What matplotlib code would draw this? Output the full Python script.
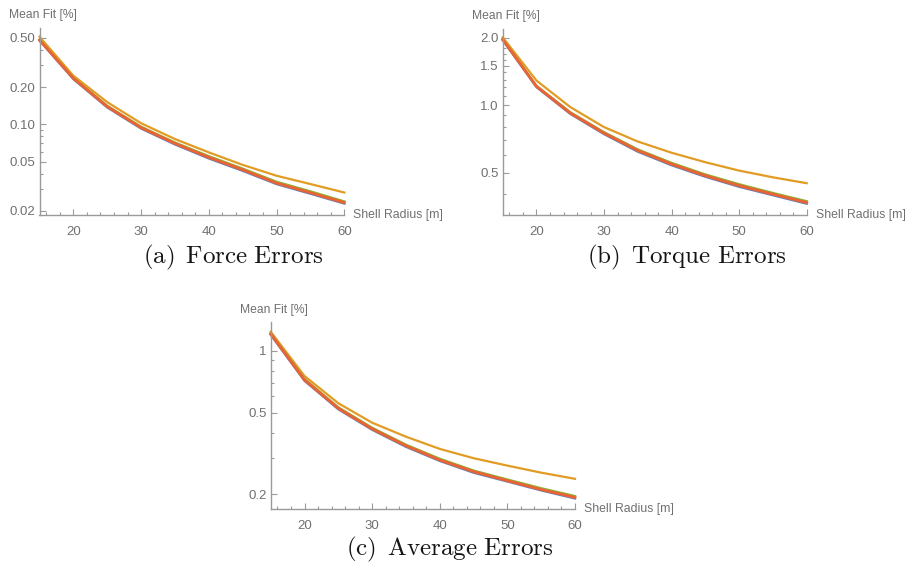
import matplotlib
matplotlib.use("Agg")
import matplotlib.pyplot as plt
from matplotlib.ticker import FixedLocator, NullFormatter, FixedFormatter

plt.rcParams['mathtext.fontset'] = 'cm'
plt.rcParams['font.family'] = ['Liberation Sans', 'DejaVu Sans']

# Shell radius samples [m]
radius = [15, 20, 25, 30, 35, 40, 45, 50, 55, 60]

# Mean fit [%] for the force errors
force_blue = [0.476, 0.232, 0.137, 0.0925, 0.0688, 0.0530, 0.0421, 0.0329, 0.0275, 0.0229]
force_orange = [0.51, 0.247, 0.151, 0.102, 0.076, 0.0593, 0.047, 0.0384, 0.0329, 0.0281]
force_green = [0.482, 0.237, 0.141, 0.0955, 0.0712, 0.0552, 0.0438, 0.0343, 0.0287, 0.0238]
force_red = [0.479, 0.235, 0.139, 0.094, 0.070, 0.054, 0.0429, 0.0335, 0.0280, 0.0233]

# Mean fit [%] for the torque errors
torque_blue = [1.955, 1.205, 0.915, 0.743, 0.620, 0.539, 0.479, 0.432, 0.396, 0.363]
torque_orange = [2.01, 1.288, 0.981, 0.798, 0.688, 0.613, 0.556, 0.510, 0.476, 0.448]
torque_green = [1.975, 1.22, 0.93, 0.757, 0.634, 0.552, 0.49, 0.443, 0.405, 0.372]
torque_red = [1.965, 1.213, 0.922, 0.750, 0.627, 0.545, 0.484, 0.437, 0.400, 0.367]

# Mean fit [%] for the average errors
avg_blue = [1.20, 0.716, 0.520, 0.413, 0.341, 0.291, 0.255, 0.231, 0.209, 0.191]
avg_orange = [1.242, 0.755, 0.556, 0.447, 0.382, 0.333, 0.300, 0.276, 0.255, 0.238]
avg_green = [1.22, 0.730, 0.531, 0.422, 0.349, 0.298, 0.261, 0.236, 0.214, 0.196]
avg_red = [1.21, 0.722, 0.525, 0.417, 0.345, 0.294, 0.258, 0.233, 0.211, 0.193]

# Tick values
force_major = [0.02, 0.05, 0.10, 0.20, 0.50]
force_major_labels = ["0.02", "0.05", "0.10", "0.20", "0.50"]
force_minor = [0.03, 0.04, 0.06, 0.07, 0.08, 0.09, 0.3, 0.4]
torque_major = [0.5, 1.0, 1.5, 2.0]
torque_major_labels = ["0.5", "1.0", "1.5", "2.0"]
torque_minor = [0.4, 0.6, 0.7, 0.8, 0.9, 1.1, 1.2, 1.3, 1.4, 1.6, 1.7, 1.8, 1.9]
avg_major = [0.2, 0.5, 1.0]
avg_major_labels = ["0.2", "0.5", "1"]
avg_minor = [0.3, 0.4, 0.6, 0.7, 0.8, 0.9]
x_major = [20, 30, 40, 50, 60]
x_minor = [16, 18, 22, 24, 26, 28, 32, 34, 36, 38, 42, 44, 46, 48, 52, 54, 56, 58]

C_BLUE = "#5E81B5"
C_ORANGE = "#E19C24"
C_GREEN = "#8FB032"
C_RED = "#EB6235"
AXIS_GRAY = "#9a9a9a"
TEXT_GRAY = "#707070"

W, H = 911, 562
fig = plt.figure(figsize=(W / 100, H / 100), dpi=100)


def px_axes(left, right, top, bottom):
    return fig.add_axes([left / W, 1 - bottom / H, (right - left) / W, (bottom - top) / H])


def style(ax, ylim, major, major_labels, minor):
    ax.set_yscale("log")
    ax.set_xlim(15, 60)
    ax.set_ylim(*ylim)
    for s in ("top", "right"):
        ax.spines[s].set_visible(False)
    for s in ("left", "bottom"):
        ax.spines[s].set_color(AXIS_GRAY)
        ax.spines[s].set_linewidth(1.0)
    ax.xaxis.set_major_locator(FixedLocator(x_major))
    ax.xaxis.set_minor_locator(FixedLocator(x_minor))
    ax.yaxis.set_major_locator(FixedLocator(major))
    ax.yaxis.set_major_formatter(FixedFormatter(major_labels))
    ax.yaxis.set_minor_locator(FixedLocator(minor))
    ax.yaxis.set_minor_formatter(NullFormatter())
    ax.tick_params(which="both", direction="in", colors=AXIS_GRAY, labelcolor=TEXT_GRAY,
                   labelsize=9.5, width=0.8)
    ax.tick_params(which="major", length=4)
    ax.tick_params(which="minor", length=2.2)
    ax.tick_params(axis="x", pad=8)
    ax.tick_params(axis="y", pad=3)
    ax.text(0.01, 1.035, "Mean Fit [%]", transform=ax.transAxes, ha="center", va="bottom",
            fontsize=8.7, color=TEXT_GRAY)
    ax.text(1.03, 0, "Shell Radius [m]", transform=ax.transAxes, ha="left", va="center",
            fontsize=8.8, color=TEXT_GRAY)


def draw(ax, blue, orange, green, red):
    ax.plot(radius, blue, color=C_BLUE, lw=1.7, solid_joinstyle="round", clip_on=False)
    ax.plot(radius, orange, color=C_ORANGE, lw=1.6, solid_joinstyle="round", clip_on=False)
    ax.plot(radius, green, color=C_GREEN, lw=1.7, solid_joinstyle="round", clip_on=False)
    ax.plot(radius, red, color=C_RED, lw=2.0, solid_joinstyle="round", clip_on=False)


ax_a = px_axes(39.5, 344.3, 28, 215)
style(ax_a, (0.0185, 0.60), force_major, force_major_labels, force_minor)
draw(ax_a, force_blue, force_orange, force_green, force_red)

ax_b = px_axes(502.7, 806.7, 29, 215)
style(ax_b, (0.323, 2.19), torque_major, torque_major_labels, torque_minor)
draw(ax_b, torque_blue, torque_orange, torque_green, torque_red)

ax_c = px_axes(270.7, 575, 322.3, 509.3)
style(ax_c, (0.169, 1.38), avg_major, avg_major_labels, avg_minor)
draw(ax_c, avg_blue, avg_orange, avg_green, avg_red)

captions = [
    (233, 257, r"$\mathrm{(a)\ \,Force\ Errors}$"),
    (687, 257, r"$\mathrm{(b)\ \,Torque\ Errors}$"),
    (450, 549, r"$\mathrm{(c)\ \,Average\ Errors}$"),
]
for cx, cy, txt in captions:
    fig.text(cx / W, 1 - cy / H, txt, ha="center", va="center", fontsize=18, color="#151515")

fig.savefig("out.png", dpi=100)
